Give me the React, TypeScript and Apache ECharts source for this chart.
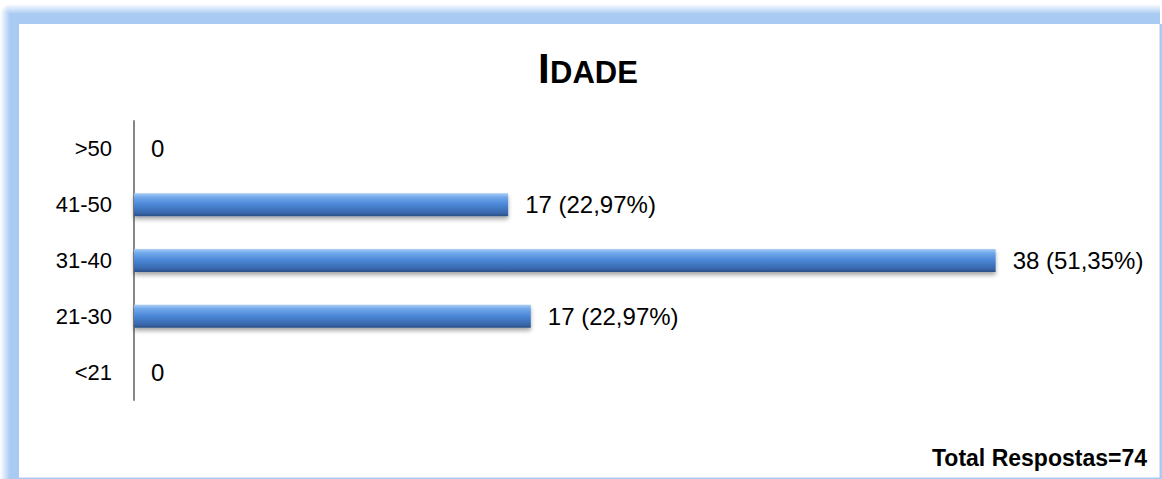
import React, { useEffect, useRef } from "react";
import * as echarts from "echarts";

// Age groups (bottom to top, as drawn on the category axis)
const categories = ["<21", "21-30", "31-40", "41-50", ">50"];
// Counts printed in the labels
const counts = [0, 17, 38, 17, 0];
// Percentages printed in the labels
const percents = ["", "22,97%", "51,35%", "22,97%", ""];
// Bar lengths
const barLengths = [0, 17.5, 38, 16.5, 0];

const titleFirst = "I";
const titleRest = "DADE";
const totalText = "Total Respostas=74";

const FONT = "'Liberation Sans', Arial, Helvetica, sans-serif";
const FRAME = "#A9CBF3";
const FRAME0 = "rgba(169,203,243,0)";

export default function App() {
  const ref = useRef<HTMLDivElement>(null);

  useEffect(() => {
    if (!ref.current) return;
    const chart = echarts.init(ref.current, null, { renderer: "svg" });

    const barGradient = new echarts.graphic.LinearGradient(0, 0, 0, 1, [
      { offset: 0, color: "#A9CDF5" },
      { offset: 0.18, color: "#6FA7EA" },
      { offset: 0.5, color: "#4A86D6" },
      { offset: 0.85, color: "#3867AC" },
      { offset: 1, color: "#2B4F86" },
    ]);

    const frame = [
      // solid top band
      {
        type: "rect",
        silent: true,
        z: -100,
        shape: { x: 10, y: 14, width: 1150, height: 10 },
        style: { fill: FRAME },
      },
      // fading top edge
      {
        type: "rect",
        silent: true,
        z: -100,
        shape: { x: 10, y: 4, width: 1150, height: 10 },
        style: {
          fill: new echarts.graphic.LinearGradient(0, 0, 0, 1, [
            { offset: 0, color: FRAME0 },
            { offset: 1, color: FRAME },
          ]),
        },
      },
      // solid left band
      {
        type: "rect",
        silent: true,
        z: -100,
        shape: { x: 10, y: 14, width: 9, height: 465 },
        style: { fill: FRAME },
      },
      // fading left edge
      {
        type: "rect",
        silent: true,
        z: -100,
        shape: { x: 0, y: 14, width: 10, height: 465 },
        style: {
          fill: new echarts.graphic.LinearGradient(0, 0, 1, 0, [
            { offset: 0, color: FRAME0 },
            { offset: 1, color: FRAME },
          ]),
        },
      },
      // rounded corner
      {
        type: "rect",
        silent: true,
        z: -100,
        shape: { x: 0, y: 4, width: 10, height: 10 },
        style: {
          fill: new echarts.graphic.RadialGradient(1, 1, 1, [
            { offset: 0, color: FRAME },
            { offset: 1, color: FRAME0 },
          ]),
        },
      },
      // right line
      {
        type: "rect",
        silent: true,
        z: -100,
        shape: { x: 1159.5, y: 24, width: 2.5, height: 455 },
        style: { fill: FRAME },
      },
      // bottom line
      {
        type: "rect",
        silent: true,
        z: -100,
        shape: { x: 19, y: 477.5, width: 1143, height: 1.5 },
        style: { fill: FRAME },
      },
    ];

    chart.setOption({
      animation: false,
      backgroundColor: "#ffffff",
      textStyle: { fontFamily: FONT },
      graphic: [
        ...frame,
        {
          type: "text",
          z: 100,
          x: 538,
          y: 68.5,
          style: {
            text: titleFirst,
            fontSize: 42,
            fontWeight: "bold",
            fontFamily: FONT,
            fill: "#000000",
            align: "left",
            verticalAlign: "middle",
          },
        },
        {
          type: "text",
          z: 100,
          x: 550,
          y: 72.3,
          style: {
            text: titleRest,
            fontSize: 31,
            fontWeight: "bold",
            fontFamily: FONT,
            fill: "#000000",
            align: "left",
            verticalAlign: "middle",
          },
        },
        {
          type: "text",
          z: 100,
          x: 1147,
          y: 458,
          style: {
            text: totalText,
            fontSize: 23,
            fontWeight: "bold",
            fontFamily: FONT,
            fill: "#000000",
            align: "right",
            verticalAlign: "middle",
          },
        },
      ],
      grid: { left: 134, top: 121, width: 907, height: 279, containLabel: false },
      xAxis: {
        type: "value",
        min: 0,
        max: 40,
        show: false,
      },
      yAxis: {
        type: "category",
        data: categories,
        axisLine: { show: true, lineStyle: { color: "#868686", width: 2 } },
        axisTick: { show: false },
        splitLine: { show: false },
        axisLabel: {
          margin: 22,
          fontSize: 22,
          color: "#000000",
          fontFamily: FONT,
        },
      },
      series: [
        {
          type: "bar",
          data: barLengths,
          barWidth: 23,
          itemStyle: {
            color: barGradient,
            shadowColor: "rgba(0,0,0,0.35)",
            shadowBlur: 4,
            shadowOffsetY: 3,
          },
          label: {
            show: true,
            position: "right",
            distance: 17,
            fontSize: 24,
            color: "#000000",
            fontFamily: FONT,
            formatter: (p: any) => {
              const i = p.dataIndex;
              return counts[i] === 0 ? "0" : `${counts[i]} (${percents[i]})`;
            },
          },
        },
      ],
    });

    return () => chart.dispose();
  }, []);

  return (
    <div
      ref={ref}
      style={{ position: "fixed", left: 0, top: 0, width: 1162, height: 479 }}
    />
  );
}
